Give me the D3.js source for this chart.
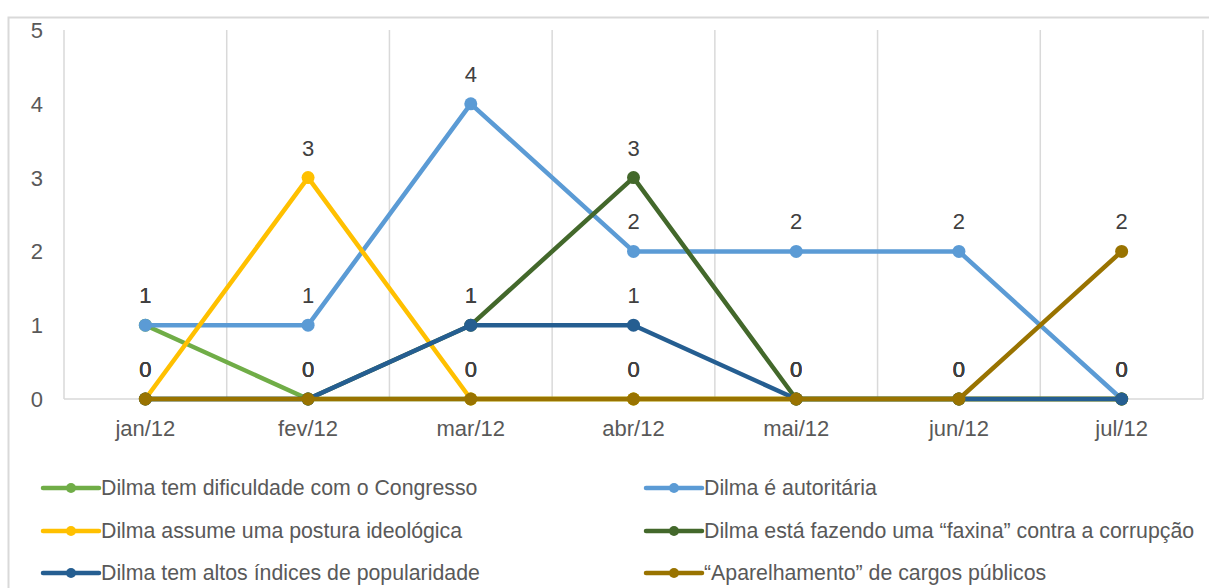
<!DOCTYPE html>
<html>
<head>
<meta charset="utf-8">
<script src="https://cdn.jsdelivr.net/npm/d3@7"></script>
<style>
  body { margin: 0; background: #fff; }
  text { font-family: "Liberation Sans", Arial, sans-serif; }
</style>
</head>
<body>
<div class="chart"></div>
<script>
var svgWidth = 1209;
var svgHeight = 588;

var months = ["jan/12", "fev/12", "mar/12", "abr/12", "mai/12", "jun/12", "jul/12"];
var yTicks = [0, 1, 2, 3, 4, 5];

var seriesNames = [
  "Dilma tem dificuldade com o Congresso",
  "Dilma é autoritária",
  "Dilma assume uma postura ideológica",
  "Dilma está fazendo uma “faxina” contra a corrupção",
  "Dilma tem altos índices de popularidade",
  "“Aparelhamento”  de cargos públicos"
];
var congresso    = [1, 0, 0, 0, 0, 0, 0];
var autoritaria  = [1, 1, 4, 2, 2, 2, 0];
var ideologica   = [0, 3, 0, 0, 0, 0, 0];
var faxina       = [0, 0, 1, 3, 0, 0, 0];
var popularidade = [0, 0, 1, 1, 0, 0, 0];
var aparelhamento = [0, 0, 0, 0, 0, 0, 2];

var seriesValues = [congresso, autoritaria, ideologica, faxina, popularidade, aparelhamento];
var colors = ["#70AD47", "#5B9BD5", "#FFC000", "#43682B", "#255E91", "#997300"];

var plot = { left: 64, right: 1203, top: 30, bottom: 399 };
var fontSize = 22;
var legendFontSize = 21.3;

var svg = d3.select(".chart")
  .append("svg")
  .attr("width", svgWidth)
  .attr("height", svgHeight);

// outer frame (only top and left edges are visible in the crop)
svg.append("rect")
  .attr("x", 8.5).attr("y", 17.5)
  .attr("width", 1300).attr("height", 700)
  .attr("fill", "none")
  .attr("stroke", "#d9d9d9")
  .attr("stroke-width", 2);

var x = d3.scaleBand()
  .domain(months)
  .range([plot.left, plot.right])
  .padding(0);

var y = d3.scaleLinear()
  .domain([0, 5])
  .range([plot.bottom, plot.top]);

var cx = function (m) { return x(m) + x.bandwidth() / 2; };

// vertical gridlines at category boundaries
var bounds = months.map(function (m) { return x(m); }).concat([plot.right]);
svg.append("g").selectAll("line")
  .data(bounds)
  .enter()
  .append("line")
  .attr("x1", d => d).attr("x2", d => d)
  .attr("y1", plot.top).attr("y2", plot.bottom)
  .attr("stroke", "#d9d9d9")
  .attr("stroke-width", 1.5);

// bottom axis line
svg.append("line")
  .attr("x1", plot.left).attr("x2", plot.right)
  .attr("y1", y(0)).attr("y2", y(0))
  .attr("stroke", "#d9d9d9")
  .attr("stroke-width", 1.5);

// y tick labels
svg.append("g").selectAll("text")
  .data(yTicks)
  .enter()
  .append("text")
  .attr("x", 43)
  .attr("y", d => y(d) + 8)
  .attr("text-anchor", "end")
  .attr("font-size", fontSize)
  .attr("fill", "#595959")
  .text(d => d);

// x tick labels
svg.append("g").selectAll("text")
  .data(months)
  .enter()
  .append("text")
  .attr("x", d => cx(d))
  .attr("y", 436)
  .attr("text-anchor", "middle")
  .attr("font-size", fontSize)
  .attr("fill", "#595959")
  .text(d => d);

var line = d3.line()
  .x((d, i) => cx(months[i]))
  .y(d => y(d));

// series lines and markers
seriesValues.forEach(function (vals, s) {
  var g = svg.append("g");
  g.append("path")
    .datum(vals)
    .attr("d", line)
    .attr("fill", "none")
    .attr("stroke", colors[s])
    .attr("stroke-width", 4.5)
    .attr("stroke-linejoin", "round");
  g.selectAll("circle")
    .data(vals)
    .enter()
    .append("circle")
    .attr("cx", (d, i) => cx(months[i]))
    .attr("cy", d => y(d))
    .attr("r", 6.5)
    .attr("fill", colors[s]);
});

// data labels
seriesValues.forEach(function (vals) {
  svg.append("g").selectAll("text")
    .data(vals)
    .enter()
    .append("text")
    .attr("x", (d, i) => cx(months[i]))
    .attr("y", d => y(d) - 22)
    .attr("text-anchor", "middle")
    .attr("font-size", fontSize)
    .attr("fill", "#404040")
    .text(d => d);
});

// legend, two columns
var legendCols = [43, 646];
var legendRows = [488, 531, 573];
var legend = svg.append("g").selectAll("g")
  .data(seriesNames)
  .enter()
  .append("g")
  .attr("transform", (d, i) => `translate(${legendCols[i % 2]}, ${legendRows[Math.floor(i / 2)]})`);

legend.append("line")
  .attr("x1", 0).attr("x2", 56)
  .attr("y1", 0).attr("y2", 0)
  .attr("stroke", (d, i) => colors[i])
  .attr("stroke-width", 4.5)
  .attr("stroke-linecap", "round");

legend.append("circle")
  .attr("cx", 28).attr("cy", 0)
  .attr("r", 5)
  .attr("fill", (d, i) => colors[i]);

legend.append("text")
  .attr("x", 58)
  .attr("y", 7)
  .attr("font-size", legendFontSize)
  .attr("fill", "#595959")
  .text(d => d);
</script>
</body>
</html>
